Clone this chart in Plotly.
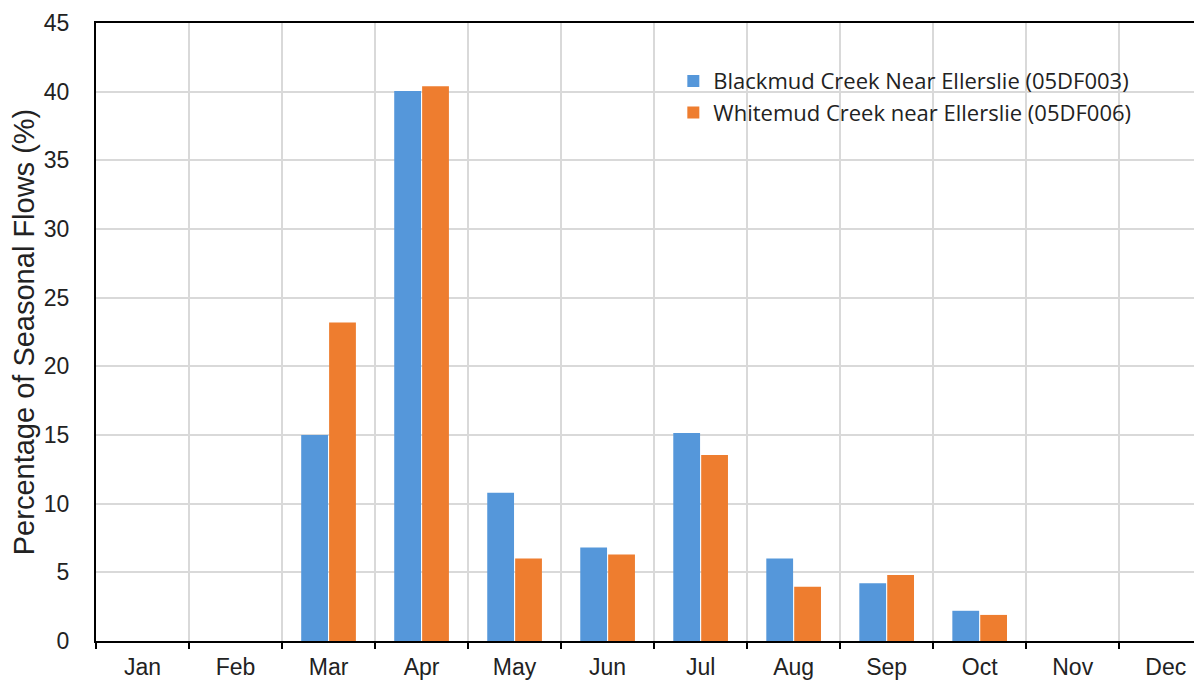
import plotly.graph_objects as go

months = ["Jan", "Feb", "Mar", "Apr", "May", "Jun",
          "Jul", "Aug", "Sep", "Oct", "Nov", "Dec"]
blackmud = [0, 0, 15.0, 40.05, 10.8, 6.8, 15.15, 6.0, 4.2, 2.2, 0, 0]
whitemud = [0, 0, 23.2, 40.4, 6.0, 6.3, 13.55, 3.95, 4.8, 1.9, 0, 0]
y_ticks = [0, 5, 10, 15, 20, 25, 30, 35, 40, 45]

BLUE = "#5597DA"
ORANGE = "#EE7D2F"
GRIDC = "#D9D9D9"
AXFONT = "Liberation Sans, Arial"

fig = go.Figure()
fig.add_trace(go.Bar(x=months, y=blackmud, name="Blackmud Creek Near Ellerslie (05DF003)",
                     marker=dict(color=BLUE, line=dict(width=0))))
fig.add_trace(go.Bar(x=months, y=whitemud, name="Whitemud Creek near Ellerslie (05DF006)",
                     marker=dict(color=ORANGE, line=dict(width=0))))

fig.update_xaxes(
    type="category", range=[-0.5, 11.39], tickson="boundaries",
    showgrid=True, gridcolor=GRIDC, gridwidth=1.5,
    showline=True, linecolor="black", linewidth=2, mirror=True,
    ticks="outside", ticklen=6, tickwidth=2, tickcolor="black",
    ticklabelstandoff=4,
    tickfont=dict(family=AXFONT, size=23, color="#222"),
)
fig.update_yaxes(
    range=[0, 45], tickvals=y_ticks, showgrid=True, gridcolor=GRIDC, gridwidth=1.5,
    showline=True, linecolor="black", linewidth=2, zeroline=False,
    ticks="", ticklabelstandoff=20,
    tickfont=dict(family=AXFONT, size=23, color="#222"),
    title=dict(text="Percentage of Seasonal Flows (%)", standoff=6,
               font=dict(family=AXFONT, size=29, color="#222")),
)
# page body adds an 8px offset, so the figure is sized/marged to compensate
fig.update_layout(
    width=1194, height=674,
    margin=dict(l=88, r=0, t=15, b=41, autoexpand=False),
    paper_bgcolor="white", plot_bgcolor="white",
    barmode="group", bargap=0.4, bargroupgap=0.04,
    showlegend=True,
    legend=dict(x=0.522, y=0.94, xanchor="left", yanchor="top",
                bgcolor="rgba(0,0,0,0)", tracegroupgap=0, itemwidth=30,
                font=dict(family="Open Sans", size=22, color="#222")),
)

fig.write_html("out.html")
